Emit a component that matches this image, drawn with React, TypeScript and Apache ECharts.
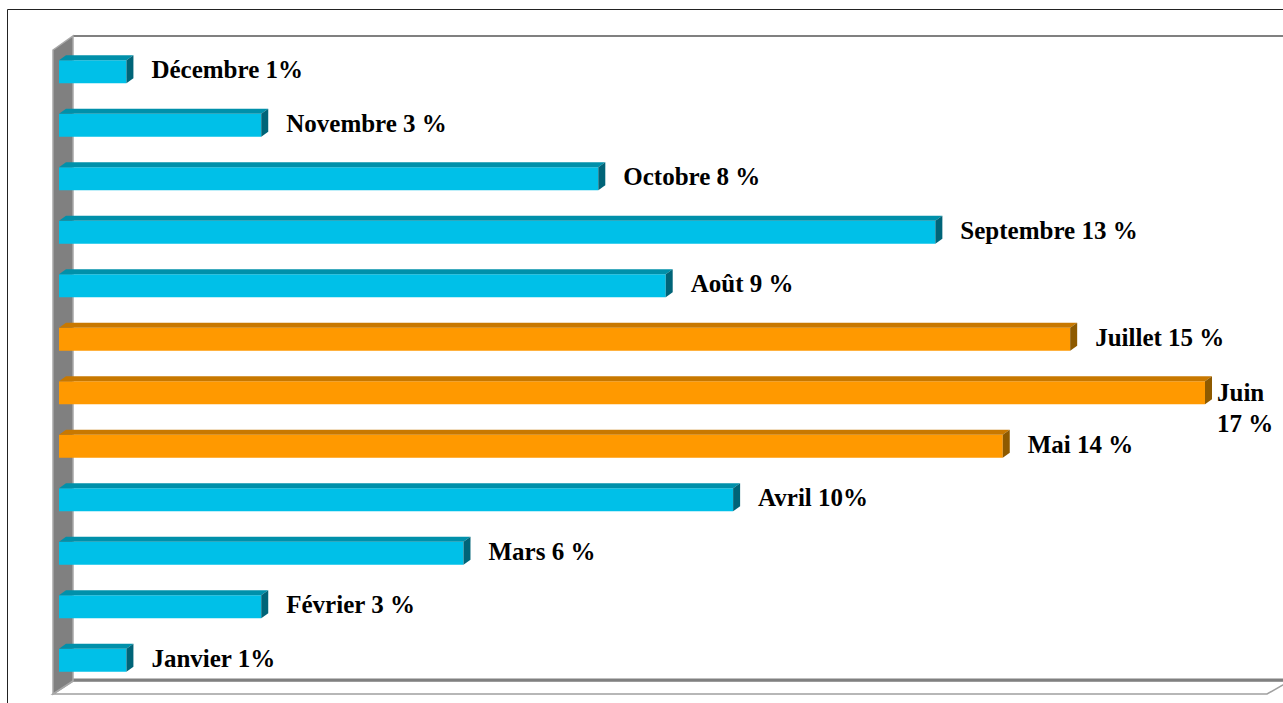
import React, { useEffect, useRef } from "react";
import * as echarts from "echarts";

const months = ["Janvier", "Février", "Mars", "Avril", "Mai", "Juin", "Juillet", "Août", "Septembre", "Octobre", "Novembre", "Décembre"];
const percents = [1, 3, 6, 10, 14, 17, 15, 9, 13, 8, 3, 1];
const labels = ["Janvier 1%", "Février 3 %", "Mars 6 %", "Avril 10%", "Mai 14 %", "Juin 17 %", "Juillet 15 %", "Août 9 %", "Septembre 13 %", "Octobre 8 %", "Novembre 3 %", "Décembre 1%"];
const peakMonths = ["Mai", "Juin", "Juillet"];

const FONT_FAMILY = '"Liberation Serif", "Times New Roman", serif';
const FONT_SIZE = 25;

export default function App() {
  const ref = useRef<HTMLDivElement>(null);

  useEffect(() => {
    if (!ref.current) return;
    const chart = echarts.init(ref.current, undefined, { renderer: "svg" });
    const measure = document.createElement("canvas").getContext("2d")!;
    measure.font = `bold ${FONT_SIZE}px ${FONT_FAMILY}`;

    const renderItem = (params: any, api: any) => {
      const val = api.value(0);
      const idx = api.value(1);
      const start = api.coord([0, idx]);
      const end = api.coord([val, idx]);
      const band = api.size([0, 1])[1];
      const h = band * 0.43;
      const top = end[1] - h / 2;
      const x0 = start[0];
      const x1 = end[0];
      const dx = 7;
      const dy = 5;
      const peak = peakMonths.includes(months[idx]);
      const pal = peak
        ? { front: "#FF9900", top: "#C87800", side: "#8E5A00" }
        : { front: "#00C0E8", top: "#0090AA", side: "#006478" };
      const label = labels[idx];
      const w = measure.measureText(label).width;
      let lx = x1 + 25;
      let wrap = false;
      if (lx + w > api.getWidth()) {
        lx = x1 + 12;
        wrap = true;
      }
      return {
        type: "group",
        children: [
          { type: "rect", shape: { x: x0, y: top, width: x1 - x0, height: h }, style: { fill: pal.front } },
          { type: "polygon", shape: { points: [[x0, top], [x0 + dx, top - dy], [x1 + dx, top - dy], [x1, top]] }, style: { fill: pal.top } },
          { type: "polygon", shape: { points: [[x1, top], [x1 + dx, top - dy], [x1 + dx, top + h - dy], [x1, top + h]] }, style: { fill: pal.side } },
          {
            type: "text",
            x: lx,
            y: wrap ? top - 4 : end[1] - 2,
            style: {
              text: wrap ? label.replace(" ", "\n") : label,
              fontFamily: FONT_FAMILY,
              fontSize: FONT_SIZE,
              fontWeight: "bold",
              fill: "#000",
              align: "left",
              verticalAlign: wrap ? "top" : "middle",
              lineHeight: 31,
            },
          },
        ],
      };
    };

    chart.setOption({
      animation: false,
      backgroundColor: "#fff",
      grid: { left: 59, right: 78, top: 45, bottom: 16 },
      xAxis: { type: "value", min: 0, max: 17, show: false },
      yAxis: { type: "category", data: months, show: false },
      graphic: [
        { type: "rect", z: 0, shape: { x: 7.5, y: 9.5, width: 1300, height: 720 }, style: { fill: "none", stroke: "#222", lineWidth: 1 } },
        { type: "line", z: 0, shape: { x1: 73, y1: 36, x2: 1290, y2: 36 }, style: { stroke: "#808080", lineWidth: 2 } },
        { type: "polygon", z: 0, shape: { points: [[53, 694], [73, 681], [1290, 681], [1267, 694]] }, style: { fill: "#fff", stroke: "#A0A0A0", lineWidth: 1.5 } },
        { type: "line", z: 0, shape: { x1: 73, y1: 680, x2: 1290, y2: 680 }, style: { stroke: "#808080", lineWidth: 3 } },
        { type: "polygon", z: 0, shape: { points: [[53, 50], [73, 36], [73, 681], [53, 694]] }, style: { fill: "#808080", stroke: "#A8A8A8", lineWidth: 1.5 } },
      ],
      series: [
        {
          type: "custom",
          z: 5,
          renderItem,
          encode: { x: 0, y: 1 },
          data: percents.map((v, i) => [v, i]),
        },
      ],
    });
    return () => chart.dispose();
  }, []);

  return <div ref={ref} style={{ position: "absolute", left: 0, top: 0, width: 1283, height: 703 }} />;
}
